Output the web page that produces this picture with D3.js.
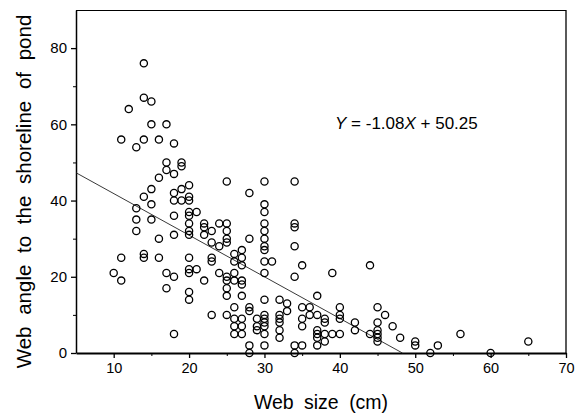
<!DOCTYPE html>
<html>
<head>
<meta charset="utf-8">
<script src="https://cdn.jsdelivr.net/npm/d3@7"></script>
<style>
  html, body { margin: 0; padding: 0; background: #fff; }
  svg { display: block; font-family: "Liberation Sans", Arial, Helvetica, sans-serif; }
</style>
</head>
<body>
<svg id="chart" width="581" height="415"></svg>
<script>
// ---- data ----
const webSize = [
  10,11,11,11,12,13,13,13,13,14,14,14,14,14,14,15,15,15,15,15,
  16,16,16,16,17,17,17,17,17,18,18,18,18,18,18,18,18,19,19,19,19,
  20,20,20,20,20,20,20,20,20,20,20,20,20,21,21,22,22,22,22,
  23,23,23,23,23,24,24,24,25,25,25,25,25,25,25,25,25,25,
  26,26,26,26,26,26,26,26,27,27,27,27,27,27,27,27,27,
  28,28,28,28,28,28,29,29,29,
  30,30,30,30,30,30,30,30,30,30,30,30,30,30,30,30,30,31,
  32,32,32,32,32,32,33,33,34,34,34,34,34,34,34,35,35,35,35,35,36,36,
  37,37,37,37,37,37,38,38,38,38,39,39,40,40,40,40,42,42,44,44,
  45,45,45,45,45,45,46,47,48,50,50,52,53,56,60,65
];
const webAngle = [
  21,19,25,56,64,54,38,35,32,76,67,56,41,26,25,66,60,43,39,35,
  56,46,30,25,60,50,48,21,17,55,47,42,40,36,31,20,5,50,49,43,40,
  44,41,40,37,36,34,32,31,25,22,21,16,14,37,22,34,33,31,19,
  32,29,25,24,10,34,28,21,45,34,32,30,29,20,19,17,15,10,
  26,24,21,19,12,9,7,5,27,25,23,19,18,15,9,7,5,
  42,30,12,11,2,0,9,7,6,
  45,39,37,34,32,30,28,27,24,21,14,10,9,8,7,5,2,24,
  14,10,9,8,6,4,13,11,45,34,33,28,20,2,0,23,12,9,7,2,12,10,
  15,10,6,5,4,2,9,8,5,3,21,5,12,10,9,5,8,6,23,5,
  12,8,6,5,4,3,10,7,4,3,2,0,2,5,0,3
];
// fitted line as drawn in the figure (end points)
const fitX = [5, 48.3];
const fitY = [47.3, 0];
const equationText = ["Y", " = -1.08", "X", " + 50.25"];

const xMajorTicks = [10, 20, 30, 40, 50, 60, 70];
const xMinorTicks = [15, 25, 35, 45, 55, 65];
const yMajorTicks = [0, 20, 40, 60, 80];
const yMinorTicks = [10, 30, 50, 70];

// ---- layout ----
const L = 76, R = 566, T = 10, B = 353;
const svg = d3.select("#chart");

const x = d3.scaleLinear().domain([5, 70]).range([L, R]);
const y = d3.scaleLinear().domain([0, 90]).range([B, T]);

// frame: top & right thin
svg.append("line").attr("x1", L).attr("x2", R).attr("y1", T + 0.5).attr("y2", T + 0.5)
  .attr("stroke", "#000").attr("stroke-width", 1.2);
svg.append("line").attr("x1", R).attr("x2", R).attr("y1", T).attr("y2", B)
  .attr("stroke", "#000").attr("stroke-width", 1.3);

// x axis
const xAxis = d3.axisBottom(x).tickValues(xMajorTicks).tickSize(5).tickSizeOuter(0).tickPadding(4);
const gx = svg.append("g").attr("transform", `translate(0,${B})`).call(xAxis);
gx.select(".domain").attr("stroke-width", 2);
gx.selectAll(".tick line").attr("stroke-width", 1.3);
gx.selectAll("text").attr("font-size", 14.5).attr("fill", "#000").attr("dy", "0.75em");
const xMinor = d3.axisBottom(x).tickValues(xMinorTicks).tickSize(3).tickFormat("").tickSizeOuter(0);
const gxm = svg.append("g").attr("transform", `translate(0,${B})`).call(xMinor);
gxm.select(".domain").remove();

// y axis
const yAxis = d3.axisLeft(y).tickValues(yMajorTicks).tickSize(5).tickSizeOuter(0).tickPadding(4);
const gy = svg.append("g").attr("transform", `translate(${L},0)`).call(yAxis);
gy.select(".domain").attr("stroke-width", 1.5);
gy.selectAll(".tick line").attr("stroke-width", 1.3);
gy.selectAll("text").attr("font-size", 15).attr("fill", "#000");
const yMinor = d3.axisLeft(y).tickValues(yMinorTicks).tickSize(3).tickFormat("").tickSizeOuter(0);
const gym = svg.append("g").attr("transform", `translate(${L},0)`).call(yMinor);
gym.select(".domain").remove();

// regression line
svg.append("line")
  .attr("x1", x(fitX[0])).attr("y1", y(fitY[0]))
  .attr("x2", x(fitX[1])).attr("y2", y(fitY[1]))
  .attr("stroke", "#222").attr("stroke-width", 0.9);

// points
svg.append("g").selectAll("circle")
  .data(webSize.map((d, i) => [d, webAngle[i]]))
  .join("circle")
  .attr("cx", d => x(d[0]))
  .attr("cy", d => y(d[1]))
  .attr("r", 3.6)
  .attr("fill", "none")
  .attr("stroke", "#000")
  .attr("stroke-width", 1.3);

// equation
const eq = svg.append("text").attr("x", 335).attr("y", 129).attr("font-size", 17).attr("fill", "#000");
equationText.forEach((t, i) => {
  eq.append("tspan").text(t).attr("font-style", i % 2 === 0 ? "italic" : "normal");
});

// axis titles
svg.append("text").attr("x", (L + R) / 2).attr("y", 409)
  .attr("text-anchor", "middle").attr("font-size", 19.5).attr("word-spacing", 5)
  .attr("fill", "#000").text("Web size (cm)");
svg.append("text").attr("transform", `translate(31,${(T + B) / 2 + 10}) rotate(-90)`)
  .attr("text-anchor", "middle").attr("font-size", 20.5).attr("word-spacing", 6)
  .attr("fill", "#000").text("Web angle to the shoreline of pond");
</script>
</body>
</html>
